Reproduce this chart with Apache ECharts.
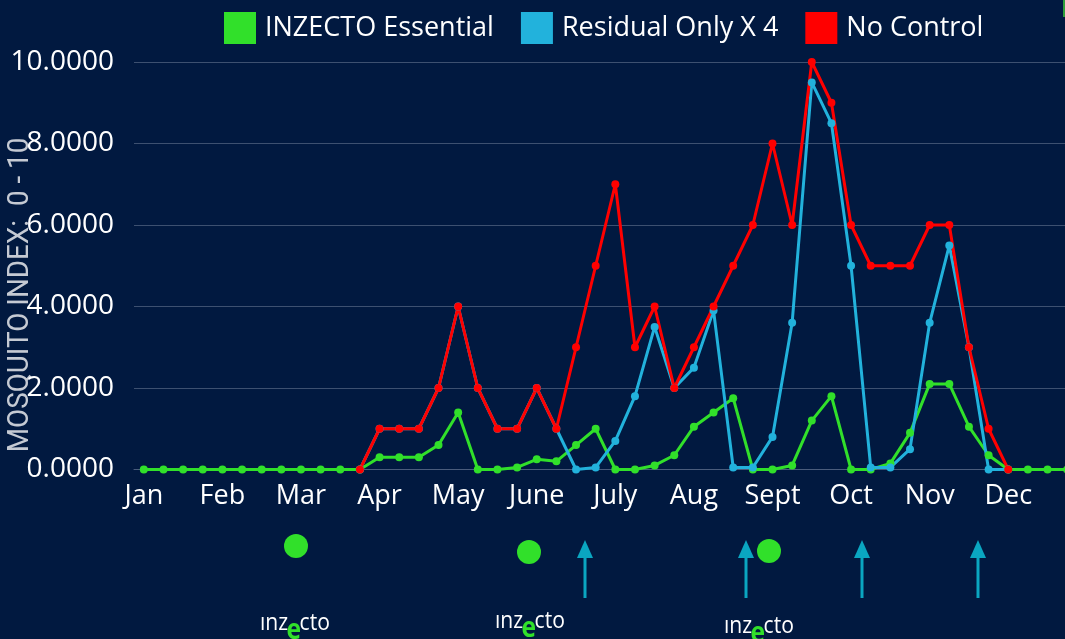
<!DOCTYPE html>
<html>
<head>
<meta charset="utf-8">
<title>Mosquito index</title>
<script src="https://cdn.jsdelivr.net/npm/echarts@6/dist/echarts.min.js"></script>
<style>
    html, body { margin: 0; padding: 0; background: #011940; }
    #main { width: 1065px; height: 639px; }
</style>
</head>
<body>
<div id="main"></div>
<script>
    // months on the axis, 4 readings per month
    var months = ['Jan', 'Feb', 'Mar', 'Apr', 'May', 'June', 'July', 'Aug', 'Sept', 'Oct', 'Nov', 'Dec'];
    var weeks = [];
    for (var m = 0; m < months.length; m++) {
        for (var w = 1; w <= 4; w++) {
            weeks.push(months[m] + ' ' + w);
        }
    }

    var seriesNames = ['INZECTO Essential', 'Residual Only X 4', 'No Control'];

    var inzecto = [0, 0, 0, 0, 0, 0, 0, 0, 0, 0, 0, 0,
        0.3, 0.3, 0.3, 0.6, 1.4, 0, 0, 0.05, 0.25, 0.2, 0.6, 1.0,
        0, 0, 0.1, 0.35, 1.05, 1.4, 1.75, 0, 0, 0.1, 1.2, 1.8,
        0, 0, 0.15, 0.9, 2.1, 2.1, 1.05, 0.35, 0, 0, 0, 0];

    var residual = ['-', '-', '-', '-', '-', '-', '-', '-', '-', '-', '-', 0,
        1, 1, 1, 2, 4, 2, 1, 1, 2, 1, 0, 0.05,
        0.7, 1.8, 3.5, 2, 2.5, 3.9, 0.05, 0.05, 0.8, 3.6, 9.5, 8.5,
        5, 0.05, 0.05, 0.5, 3.6, 5.5, 3, 0, 0, '-', '-', '-'];

    var noControl = ['-', '-', '-', '-', '-', '-', '-', '-', '-', '-', '-', 0,
        1, 1, 1, 2, 4, 2, 1, 1, 2, 1, 3, 5,
        7, 3, 4, 2, 3, 4, 5, 6, 8, 6, 10, 9,
        6, 5, 5, 5, 6, 6, 3, 1, 0, '-', '-', '-'];

    var colors = ['#31e02a', '#22b2dc', '#ff0000'];

    // treatment markers under the axis
    var dots = [[296, 546], [529, 552], [769, 551]];
    var arrows = [585, 746, 862, 978];
    var logos = [[260, 623], [495, 621], [724, 626]];

    var font = '"Open Sans", "Noto Sans", sans-serif';
    var arrowColor = '#0aa6c1';

    var graphics = [];
    dots.forEach(function (d) {
        graphics.push({
            type: 'circle',
            shape: {cx: d[0], cy: d[1], r: 12},
            style: {fill: colors[0]}
        });
    });
    arrows.forEach(function (x) {
        graphics.push({
            type: 'group',
            x: x,
            y: 540,
            children: [
                {type: 'line', shape: {x1: 0, y1: 16, x2: 0, y2: 58}, style: {stroke: arrowColor, lineWidth: 3}},
                {type: 'polygon', shape: {points: [[0, 0], [-8, 18], [8, 18]]}, style: {fill: arrowColor}}
            ]
        });
    });
    logos.forEach(function (p) {
        graphics.push({
            type: 'group',
            x: p[0],
            y: p[1],
            scaleX: 0.88,
            children: [
                {type: 'text', x: 0, y: 0, style: {text: 'ınz', fill: '#fff', font: '24px ' + font, verticalAlign: 'middle'}},
                {type: 'text', x: 30, y: 8, style: {text: 'e', fill: colors[0], font: 'bold 28px ' + font, verticalAlign: 'middle'}},
                {type: 'text', x: 45, y: 0, style: {text: 'cto', fill: '#fff', font: '24px ' + font, verticalAlign: 'middle'}}
            ]
        });
    });
    // axis title, drawn rotated
    graphics.push({
        type: 'text',
        x: 21,
        y: 295,
        rotation: Math.PI / 2,
        scaleX: 0.96,
        style: {
            text: 'MOSQUITO INDEX:  0 - 10',
            fill: '#c5cad3',
            font: '29px Roboto',
            align: 'center',
            verticalAlign: 'middle'
        }
    });
    graphics.push({type: 'rect', shape: {x: 1063, y: 0, width: 3, height: 17}, style: {fill: '#2f9e3a'}});

    var myChart = echarts.init(document.getElementById('main'));

    var series = [];
    var values = [inzecto, residual, noControl];
    for (var i = 0; i < seriesNames.length; i++) {
        series.push({
            name: seriesNames[i],
            type: 'line',
            data: values[i],
            symbol: 'circle',
            symbolSize: 8,
            showSymbol: true,
            connectNulls: false,
            lineStyle: {width: 3, color: colors[i]},
            itemStyle: {color: colors[i]},
            animation: false
        });
    }

    var option = {
        backgroundColor: '#011940',
        animation: false,
        legend: {
            data: seriesNames,
            top: 12,
            left: 224,
            padding: 0,
            icon: 'rect',
            itemWidth: 32,
            itemHeight: 32,
            itemGap: 27,
            textStyle: {color: '#fff', fontSize: 27, fontFamily: font, padding: [0, 0, 0, 4]}
        },
        grid: {
            left: 134,
            top: 62,
            width: 943,
            bottom: 169.5,
            outerBoundsMode: 'none',
            containLabel: false
        },
        xAxis: {
            type: 'category',
            data: weeks,
            boundaryGap: true,
            axisTick: {show: false},
            axisLine: {lineStyle: {color: '#4a5c7c', width: 1}},
            axisLabel: {
                interval: 3,
                color: '#fff',
                fontSize: 27,
                fontFamily: font,
                margin: 13,
                formatter: function (v) {
                    return v.split(' ')[0];
                }
            }
        },
        yAxis: {
            type: 'value',
            min: 0,
            max: 10,
            interval: 2,
            axisLine: {show: false},
            axisTick: {show: false},
            axisLabel: {
                color: '#fff',
                fontSize: 28,
                fontFamily: font,
                margin: 20,
                formatter: function (v) {
                    return v.toFixed(4);
                }
            },
            splitLine: {lineStyle: {color: '#3d5070', width: 1}}
        },
        graphic: graphics,
        series: series
    };
    myChart.setOption(option);
</script>
</body>
</html>
